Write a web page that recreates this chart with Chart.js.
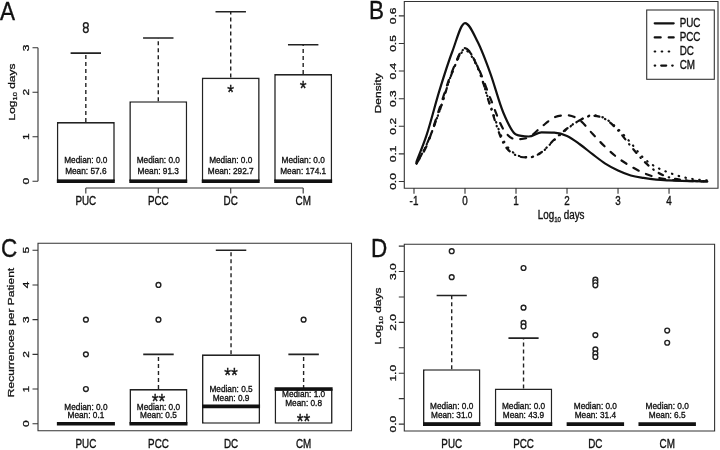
<!DOCTYPE html>
<html>
<head>
<meta charset="utf-8">
<script src="https://cdn.jsdelivr.net/npm/chart.js@4.4.1/dist/chart.umd.min.js"></script>
<style>
  html, body { margin: 0; padding: 0; background: #fff; }
  #wrap { position: relative; width: 720px; height: 450px; overflow: hidden; }
  canvas { position: absolute; }
</style>
</head>
<body>
<div id="wrap">
  <canvas id="panelA" width="360" height="225" style="left:0;top:0"></canvas>
  <canvas id="panelB" width="360" height="225" style="left:360px;top:0"></canvas>
  <canvas id="panelC" width="360" height="225" style="left:0;top:225px"></canvas>
  <canvas id="panelD" width="360" height="225" style="left:360px;top:225px"></canvas>
</div>
<script>
// ---------- data ----------
const groups = ["PUC", "PCC", "DC", "CM"];

// A: log10 days
const aBoxLow = [0, 0, 0, 0];
const aBoxHigh = [1.33, 1.80, 2.33, 2.41];
const aWhiskerHigh = [2.88, 3.22, 3.81, 3.07];
const aMedian = [0, 0, 0, 0];
const aMean = [57.6, 91.3, 292.7, 174.1];
const aOutliers = [[3.51, 3.40], [], [], []];
const aStars = ["", "", "*", "*"];
const aYTicks = [0, 1, 2, 3];
const aYTickLabels = ["0", "1", "2", "3"];

// B: density of log10 days
const bX = [-0.95, -0.75, -0.5, -0.25, 0, 0.25, 0.5, 0.75, 1.0, 1.25, 1.5, 1.75, 2.0, 2.25, 2.5, 2.75, 3.0, 3.25, 3.5, 3.75, 4.0, 4.25, 4.5, 4.75];
const bPUC = [0.072, 0.17, 0.33, 0.47, 0.574, 0.505, 0.39, 0.25, 0.17, 0.163, 0.178, 0.177, 0.165, 0.135, 0.099, 0.065, 0.04, 0.022, 0.013, 0.007, 0.004, 0.002, 0.001, 0.0];
const bPCC = [0.065, 0.13, 0.265, 0.40, 0.483, 0.415, 0.30, 0.19, 0.153, 0.16, 0.198, 0.232, 0.24, 0.222, 0.173, 0.125, 0.085, 0.055, 0.031, 0.015, 0.007, 0.003, 0.001, 0.0];
const bDC = [0.068, 0.135, 0.255, 0.395, 0.475, 0.41, 0.275, 0.15, 0.098, 0.088, 0.105, 0.15, 0.19, 0.222, 0.24, 0.228, 0.19, 0.14, 0.085, 0.052, 0.032, 0.017, 0.008, 0.004];
const bCM = [0.065, 0.135, 0.255, 0.395, 0.48, 0.415, 0.27, 0.14, 0.095, 0.087, 0.106, 0.152, 0.192, 0.222, 0.238, 0.226, 0.185, 0.128, 0.075, 0.036, 0.015, 0.006, 0.002, 0.001];
const bXTicks = [-1, 0, 1, 2, 3, 4];
const bXTickLabels = ["-1", "0", "1", "2", "3", "4"];
const bYTicks = [0, 0.1, 0.2, 0.3, 0.4, 0.5, 0.6];
const bYTickLabels = ["0.0", "0.1", "0.2", "0.3", "0.4", "0.5", "0.6"];

// C: recurrences per patient
const cBoxLow = [0, 0, 0, 0];
const cBoxHigh = [0, 1, 2, 1];
const cWhiskerHigh = [0, 2, 5, 2];
const cMedian = [0, 0, 0.5, 1.0];
const cMean = [0.1, 0.5, 0.9, 0.8];
const cOutliers = [[1, 2, 3], [3, 4], [], [3]];
const cStars = ["", "**", "**", "**"];
const cYTicks = [0, 1, 2, 3, 4, 5];
const cYTickLabels = ["0", "1", "2", "3", "4", "5"];

// D: log10 days
const dBoxLow = [0, 0, 0, 0];
const dBoxHigh = [1.08, 0.70, 0, 0];
const dWhiskerHigh = [2.53, 1.69, 0, 0];
const dMedian = [0, 0, 0, 0];
const dMean = [31.0, 43.9, 31.4, 6.5];
const dOutliers = [[3.40, 2.89], [3.07, 2.29, 1.99, 1.92], [2.84, 2.79, 2.73, 1.75, 1.47, 1.39, 1.32], [1.84, 1.60]];
const dYTicks = [0, 0.5, 1, 1.5, 2, 2.5, 3, 3.5];
const dYTickLabels = ["0.0", "", "1.0", "", "2.0", "", "3.0", ""];

// ---------- look ----------
const INK = "#111";
const EDGE = "#222";
const FONT = '"Liberation Sans", Arial, Helvetica, sans-serif';
const TICK = 5.5;
const logDays = [["Log", 0], ["10", 1], [" days", 0]];

// fill + hairline stroke so the text reads as heavy as the scanned figure
function ink(ctx, s, x, y) {
  ctx.fillText(s, x, y);
  ctx.lineWidth = 0.35;
  ctx.strokeStyle = INK;
  ctx.strokeText(s, x, y);
}

function say(ctx, s, x, y, size, opt) {
  opt = opt || {};
  ctx.save();
  ctx.translate(x, y);
  ctx.scale(opt.squish || 0.82, 1);
  if (opt.rotate) ctx.rotate(-Math.PI / 2);
  ctx.font = size + "px " + FONT;
  ctx.textAlign = opt.align || "center";
  ctx.textBaseline = opt.baseline || "middle";
  ctx.fillStyle = INK;
  ink(ctx, s, 0, 0);
  ctx.restore();
}

// title with optional subscript parts
function sayTitle(ctx, parts, x, y, size, rotate) {
  ctx.save();
  ctx.translate(x, y);
  ctx.scale(0.82, 1);
  if (rotate) ctx.rotate(-Math.PI / 2);
  ctx.fillStyle = INK;
  ctx.textBaseline = "middle";
  ctx.textAlign = "left";
  const fonts = parts.map(p => (p[1] ? size * 0.62 : size) + "px " + FONT);
  let w = 0;
  parts.forEach((p, i) => { ctx.font = fonts[i]; w += ctx.measureText(p[0]).width; });
  let cx = -w / 2;
  parts.forEach((p, i) => {
    ctx.font = fonts[i];
    ink(ctx, p[0], cx, p[1] ? size * 0.3 : 0);
    cx += ctx.measureText(p[0]).width;
  });
  ctx.restore();
}

const rAxes = {
  id: "rAxes",
  afterDatasetsDraw(chart, args, o) {
    const ctx = chart.ctx, a = chart.chartArea;
    const xs = chart.scales.x, ys = chart.scales.y;
    ctx.save();
    ctx.setLineDash([]);
    ctx.lineWidth = 1.1;
    ctx.strokeStyle = "#333";
    ctx.beginPath();
    if (o.frame) ctx.rect(a.left, a.top, a.right - a.left, a.bottom - a.top);
    const yb = ys.getPixelForValue(o.yTicks[0]);
    const yt = ys.getPixelForValue(o.yTicks[o.yTicks.length - 1]);
    if (!o.frame) { ctx.moveTo(a.left, yb); ctx.lineTo(a.left, yt); }
    o.yTicks.forEach(v => {
      const p = ys.getPixelForValue(v);
      ctx.moveTo(a.left - TICK, p); ctx.lineTo(a.left, p);
    });
    if (o.xTickMarks) {
      const xl = xs.getPixelForValue(o.xTicks[0]);
      const xr = xs.getPixelForValue(o.xTicks[o.xTicks.length - 1]);
      if (!o.frame) { ctx.moveTo(xl, a.bottom); ctx.lineTo(xr, a.bottom); }
      o.xTicks.forEach(v => {
        const p = xs.getPixelForValue(v);
        ctx.moveTo(p, a.bottom); ctx.lineTo(p, a.bottom + TICK);
      });
    }
    ctx.stroke();

    o.yTicks.forEach((v, i) => {
      if (o.yTickLabels[i]) say(ctx, o.yTickLabels[i], a.left - 11.5, ys.getPixelForValue(v), 12, { rotate: true });
    });
    o.xTicks.forEach((v, i) => say(ctx, o.xTickLabels[i], xs.getPixelForValue(v), o.xLabelY, 12));
    sayTitle(ctx, o.yTitle, o.yTitleX, o.yTitleY, 12, true);
    if (o.xTitle) sayTitle(ctx, o.xTitle, (a.left + a.right) / 2, o.xTitleY, 12, false);
    say(ctx, o.letter, o.letterX, o.letterY, 25, { align: "left", baseline: "alphabetic", squish: 0.9 });

    (o.notes || []).forEach(n => {
      const px = xs.getPixelForValue(n.x), py = ys.getPixelForValue(n.y);
      if (n.star) say(ctx, n.text, px, py + n.size * 0.58, n.size, { baseline: "alphabetic", squish: 0.87 });
      else say(ctx, n.text, px, py, n.size, { squish: 0.87 });
    });

    if (o.legend) {
      const L = o.legend;
      ctx.strokeStyle = "#333";
      ctx.lineWidth = 1.1;
      ctx.strokeRect(L.x, L.y, L.w, L.h);
      chart.data.datasets.forEach((ds, i) => {
        const ry = L.y + L.first + i * L.step;
        ctx.save();
        ctx.strokeStyle = ds.borderColor;
        ctx.lineWidth = ds.borderWidth;
        ctx.lineCap = ds.borderCapStyle || "butt";
        ctx.setLineDash(ds.borderDash || []);
        ctx.beginPath();
        ctx.moveTo(L.x + 8, ry); ctx.lineTo(L.x + 27, ry);
        ctx.stroke();
        ctx.restore();
        say(ctx, ds.label, L.x + 33, ry, 12, { align: "left" });
      });
    }
    ctx.restore();
  }
};

const baseOptions = (pad, xMin, xMax, yMin, yMax, axes) => ({
  responsive: false,
  animation: false,
  events: [],
  layout: { padding: pad },
  plugins: { legend: { display: false }, tooltip: { enabled: false }, rAxes: axes },
  scales: {
    x: { type: "linear", display: false, offset: false, min: xMin, max: xMax, ticks: { stepSize: 1, includeBounds: false } },
    y: { type: "linear", display: false, min: yMin, max: yMax }
  }
});

// box plot built from floating bars plus line segments
function boxChart(id, d, look) {
  const HALF = 0.4, CAP = 0.21;
  const boxes = [], whiskers = [], caps = [], medians = [], outs = [], notes = [];
  groups.forEach((g, i) => {
    const x = i + 1;
    boxes.push({ x, y: [d.low[i], d.high[i]] });
    if (d.whisk[i] > d.high[i]) {
      whiskers.push({ x, y: d.high[i] }, { x, y: d.whisk[i] }, { x, y: null });
      caps.push({ x: x - CAP, y: d.whisk[i] }, { x: x + CAP, y: d.whisk[i] }, { x: x + CAP, y: null });
    }
    medians.push({ x: x - HALF, y: d.median[i] }, { x: x + HALF, y: d.median[i] }, { x: x + HALF, y: null });
    d.outliers[i].forEach(v => outs.push({ x, y: v }));
    notes.push({ x, y: look.medianY[i], text: "Median: " + d.median[i].toFixed(1), size: 9.5 });
    notes.push({ x, y: look.meanY[i], text: "Mean: " + d.mean[i].toFixed(1), size: 9.5 });
    if (d.stars[i]) notes.push({ x, y: look.starY[i], text: d.stars[i], size: 20, star: true });
  });
  const axes = Object.assign({ notes, xTicks: [1, 2, 3, 4], xTickLabels: groups }, look.axes);
  return new Chart(document.getElementById(id), {
    type: "bar",
    data: {
      datasets: [
        { type: "bar", data: boxes, backgroundColor: "#fff", borderColor: EDGE, borderWidth: 1.6,
          borderSkipped: false, barPercentage: 0.8, categoryPercentage: 1, order: 4 },
        { type: "line", data: whiskers, borderColor: EDGE, borderWidth: 1.4, borderDash: [4, 3],
          pointRadius: 0, spanGaps: false, order: 3 },
        { type: "line", data: caps, borderColor: EDGE, borderWidth: 1.6, pointRadius: 0, spanGaps: false, order: 2 },
        { type: "line", data: medians, borderColor: INK, borderWidth: 3.6, pointRadius: 0, spanGaps: false, order: 1 },
        { type: "scatter", data: outs, pointStyle: "circle", pointRadius: 2.4, pointBorderWidth: 1.4,
          pointBorderColor: EDGE, pointBackgroundColor: "#fff", order: 0 }
      ]
    },
    options: baseOptions(look.pad, 0.34, 4.66, look.yMin, look.yMax, axes),
    plugins: [rAxes]
  });
}

boxChart("panelA",
  { low: aBoxLow, high: aBoxHigh, whisk: aWhiskerHigh, median: aMedian, mean: aMean, outliers: aOutliers, stars: aStars },
  {
    pad: { left: 38, right: 9, top: 0, bottom: 37 }, yMin: -0.153, yMax: 3.954,
    medianY: [0.474, 0.474, 0.474, 0.474], meanY: [0.218, 0.218, 0.218, 0.218], starY: [0, 0, 2.10, 2.19],
    axes: { frame: false, xTickMarks: true, yTicks: aYTicks, yTickLabels: aYTickLabels, xLabelY: 202,
      yTitle: logDays, yTitleX: 12.5, yTitleY: 92, letter: "A", letterX: 0, letterY: 20 }
  });

boxChart("panelC",
  { low: cBoxLow, high: cBoxHigh, whisk: cWhiskerHigh, median: cMedian, mean: cMean, outliers: cOutliers, stars: cStars },
  {
    pad: { left: 38, right: 8.5, top: 18.3, bottom: 19.3 }, yMin: -0.2, yMax: 5.2,
    medianY: [0.468, 0.468, 0.977, 0.833], meanY: [0.23, 0.23, 0.739, 0.575], starY: [0, 0.785, 1.55, 0.21],
    axes: { frame: true, xTickMarks: false, yTicks: cYTicks, yTickLabels: cYTickLabels, xLabelY: 220,
      yTitle: [["Recurrences per Patient", 0]], yTitleX: 11.5, yTitleY: 107.5, letter: "C", letterX: 1, letterY: 32 }
  });

boxChart("panelD",
  { low: dBoxLow, high: dBoxHigh, whisk: dWhiskerHigh, median: dMedian, mean: dMean, outliers: dOutliers, stars: ["", "", "", ""] },
  {
    pad: { left: 44.3, right: 2, top: 19.3, bottom: 19 }, yMin: -0.136, yMax: 3.536,
    medianY: [0.355, 0.355, 0.355, 0.355], meanY: [0.164, 0.164, 0.164, 0.164], starY: [0, 0, 0, 0],
    axes: { frame: true, xTickMarks: false, yTicks: dYTicks, yTickLabels: dYTickLabels, xLabelY: 220,
      yTitle: logDays, yTitleX: 18.3, yTitleY: 91, letter: "D", letterX: 11, letterY: 32 }
  });

// density panel
const pts = ys => bX.map((x, i) => ({ x, y: ys[i] }));
const curve = (label, ys, dash) => ({
  label, data: pts(ys), borderColor: INK, borderWidth: 2.2, borderDash: dash, borderCapStyle: "round",
  pointRadius: 0, cubicInterpolationMode: "monotone", fill: false
});
new Chart(document.getElementById("panelB"), {
  type: "line",
  data: {
    datasets: [
      curve(groups[0], bPUC, []),
      curve(groups[1], bPCC, [6, 8]),
      curve(groups[2], bDC, [0.5, 6.5]),
      curve(groups[3], bCM, [0.5, 6, 5, 6])
    ]
  },
  options: baseOptions({ left: 44.3, right: 2, top: 1.5, bottom: 36.7 }, -1.19, 4.96, -0.0246, 0.652, {
    frame: true, xTickMarks: true, xTicks: bXTicks, xTickLabels: bXTickLabels, xLabelY: 201.5,
    yTicks: bYTicks, yTickLabels: bYTickLabels,
    yTitle: [["Density", 0]], yTitleX: 18.3, yTitleY: 93.3,
    xTitle: logDays, xTitleY: 216,
    letter: "B", letterX: 9, letterY: 19,
    legend: { x: 286.7, y: 10, w: 67.6, h: 69.3, first: 13.3, step: 14.1 }
  }),
  plugins: [rAxes]
});
</script>
</body>
</html>
